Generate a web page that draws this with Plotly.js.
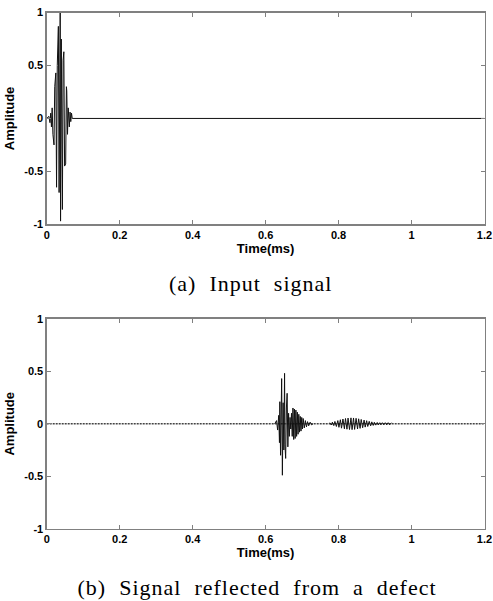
<!DOCTYPE html>
<html>
<head>
<meta charset="utf-8">
<script src="https://cdn.plot.ly/plotly-3.0.1.min.js"></script>
<style>
html,body{margin:0;padding:0;background:#fff;}
#chart{width:493px;height:601px;}
#chart .annotation-text{letter-spacing:1px;}
</style>
</head>
<body>
<div id="chart"></div>
<script>
// ---- data ----
// (a) input signal: tone burst extrema (time in ms, amplitude)
const inputTime = [0.000, 0.006, 0.009, 0.011, 0.013, 0.015, 0.017, 0.020, 0.022, 0.025, 0.027, 0.029, 0.032, 0.034, 0.037, 0.038, 0.040, 0.043, 0.045, 0.047, 0.049, 0.052, 0.054, 0.055, 0.057, 0.059, 0.062, 0.064, 0.066, 0.068, 0.070, 1.200];
const inputAmp  = [0.00, 0.02, -0.04, 0.05, -0.08, 0.10, -0.15, -0.25, 0.30, 0.43, -0.65, 0.50, 0.87, -0.70, 1.00, -0.97, 0.75, -0.86, 0.55, 0.63, -0.45, -0.43, 0.30, 0.26, -0.15, 0.10, -0.08, 0.06, -0.03, 0.05, 0.00, 0.00];

// (b) reflected signal: main echo and second wave packet (extrema)
const echoTime = [0.625, 0.630, 0.633, 0.636, 0.638, 0.639, 0.641, 0.643, 0.644, 0.646, 0.648, 0.650, 0.652, 0.653, 0.655, 0.657, 0.659, 0.661, 0.663, 0.665, 0.667, 0.669, 0.671, 0.673, 0.675, 0.677, 0.679, 0.681, 0.683, 0.685, 0.687, 0.689, 0.691, 0.693, 0.695, 0.697, 0.699, 0.701, 0.703, 0.706, 0.709, 0.712, 0.715, 0.718, 0.722, 0.726, 0.730];
const echoAmp  = [0.00, 0.03, -0.06, 0.08, -0.18, 0.21, -0.30, 0.12, 0.43, -0.49, 0.20, -0.25, 0.48, -0.20, -0.33, 0.15, 0.29, -0.22, 0.10, -0.12, 0.06, -0.05, 0.10, -0.12, 0.15, -0.15, 0.14, -0.14, 0.13, -0.12, 0.11, -0.10, 0.09, -0.08, 0.07, -0.07, 0.06, -0.05, 0.05, -0.04, 0.03, -0.03, 0.02, -0.02, 0.015, -0.01, 0.00];
const packetTime = [0.776, 0.780, 0.783, 0.787, 0.790, 0.794, 0.798, 0.801, 0.805, 0.808, 0.812, 0.816, 0.819, 0.823, 0.826, 0.830, 0.834, 0.837, 0.841, 0.844, 0.848, 0.852, 0.855, 0.859, 0.862, 0.866, 0.870, 0.873, 0.877, 0.880, 0.884, 0.888, 0.891, 0.895, 0.898, 0.902, 0.906, 0.909, 0.913, 0.916, 0.920, 0.924, 0.928, 0.932, 0.936, 0.940, 0.945];
const packetAmp  = [0.010, -0.012, 0.015, -0.018, 0.022, -0.026, 0.030, -0.034, 0.038, -0.042, 0.045, -0.048, 0.050, -0.052, 0.054, -0.055, 0.056, -0.056, 0.055, -0.054, 0.052, -0.050, 0.047, -0.044, 0.041, -0.038, 0.035, -0.032, 0.029, -0.026, 0.023, -0.020, 0.018, -0.016, 0.014, -0.013, 0.012, -0.011, 0.010, -0.010, 0.010, -0.010, 0.010, -0.010, 0.010, -0.010, 0.010];
const baselineTime = [0, 1.2];
const baselineAmp  = [0, 0];

const xTickVals = [0, 0.2, 0.4, 0.6, 0.8, 1, 1.2];
const xTickText = ['0', '0.2', '0.4', '0.6', '0.8', '1', '1.2'];
const yTickVals = [-1, -0.5, 0, 0.5, 1];
const yTickText = ['-1', '-0.5', '0', '0.5', '1'];

const xTitle = 'Time(ms)';
const yTitle = 'Amplitude';
const captionA = '(a)\u00a0\u00a0Input\u00a0\u00a0signal';
const captionB = '(b)\u00a0\u00a0Signal\u00a0\u00a0reflected\u00a0\u00a0from\u00a0\u00a0a\u00a0\u00a0defect';

// ---- chart ----
const sigLine = {color: '#111111', width: 1};
const traces = [
  {x: inputTime, y: inputAmp, type: 'scatter', mode: 'lines', line: sigLine, xaxis: 'x', yaxis: 'y', hoverinfo: 'skip'},
  {x: baselineTime, y: baselineAmp, type: 'scatter', mode: 'lines', line: {color: '#444', width: 1.6, dash: '2px,1px'}, xaxis: 'x2', yaxis: 'y2', hoverinfo: 'skip'},
  {x: echoTime, y: echoAmp, type: 'scatter', mode: 'lines', line: sigLine, xaxis: 'x2', yaxis: 'y2', hoverinfo: 'skip'},
  {x: packetTime, y: packetAmp, type: 'scatter', mode: 'lines', line: sigLine, xaxis: 'x2', yaxis: 'y2', hoverinfo: 'skip'}
];

const tickFont = {family: 'Liberation Sans, Arial, sans-serif', size: 11, color: '#000', weight: 'bold'};
const titleFont = {family: 'Liberation Sans, Arial, sans-serif', size: 13, color: '#000', weight: 'bold'};
const W = 493, H = 601;
const xDom = [46.7 / W, 484.5 / W];
const yDomA = [1 - 224.3 / H, 1 - 12.6 / H];
const yDomB = [1 - 528.8 / H, 1 - 318.7 / H];

function xAxis(anchor) {
  return {
    domain: xDom, range: [0, 1.2], anchor: anchor,
    tickvals: xTickVals, ticktext: xTickText, tickfont: tickFont,
    ticks: 'inside', ticklen: 4, tickwidth: 1, tickcolor: '#808080',
    showline: true, linecolor: '#808080', linewidth: 1.3, mirror: 'ticks',
    showgrid: false, zeroline: false,
    title: {text: xTitle, font: titleFont, standoff: 2}
  };
}
function yAxis(anchor, dom) {
  return {
    domain: dom, range: [-1, 1], anchor: anchor,
    tickvals: yTickVals, ticktext: yTickText, tickfont: tickFont,
    ticks: 'inside', ticklen: 4, tickwidth: 1, tickcolor: '#808080',
    showline: true, linecolor: '#808080', linewidth: 1.3, mirror: 'ticks',
    showgrid: false, zeroline: false,
    title: {text: yTitle, font: titleFont, standoff: 6}
  };
}

const capFont = {family: 'Liberation Serif, Times New Roman, serif', size: 22, color: '#000'};
const layout = {
  width: W, height: H,
  margin: {l: 0, r: 0, t: 0, b: 0},
  paper_bgcolor: '#fff', plot_bgcolor: '#fff',
  showlegend: false,
  xaxis: xAxis('y'), yaxis: yAxis('x', yDomA),
  xaxis2: xAxis('y2'), yaxis2: yAxis('x2', yDomB),
  annotations: [
    {text: captionA, xref: 'paper', yref: 'paper', x: 250 / W, y: 1 - 283 / H, xanchor: 'center', yanchor: 'middle', showarrow: false, font: capFont},
    {text: captionB, xref: 'paper', yref: 'paper', x: 257 / W, y: 1 - 587 / H, xanchor: 'center', yanchor: 'middle', showarrow: false, font: capFont}
  ]
};

Plotly.newPlot('chart', traces, layout, {staticPlot: true, displayModeBar: false});
</script>
</body>
</html>
